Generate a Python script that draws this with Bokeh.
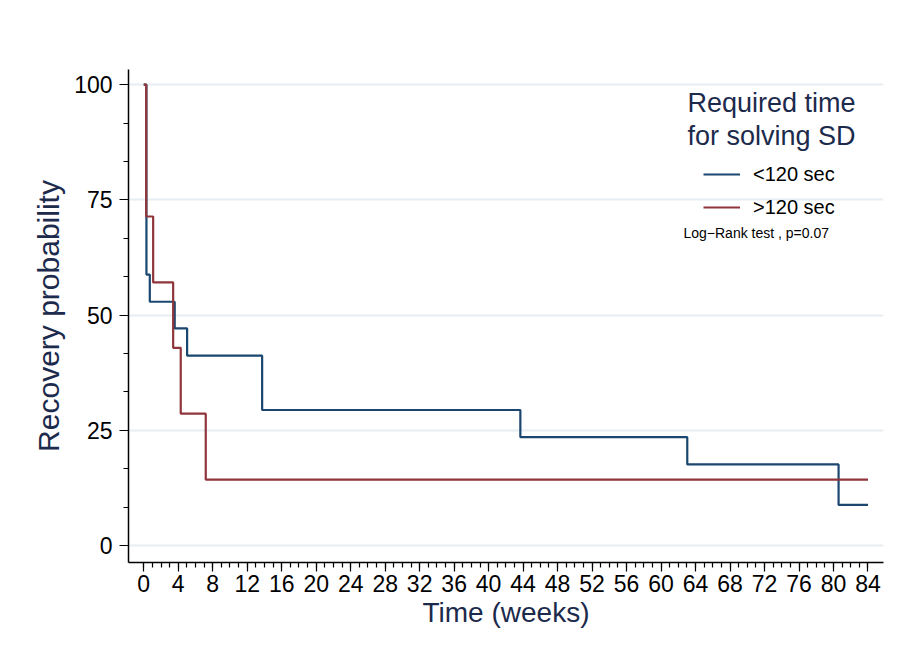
from bokeh.plotting import figure
from bokeh.models import FixedTicker, Legend, LegendItem, Label, Range1d
from bokeh.embed import file_html
from bokeh.resources import INLINE

# Kaplan-Meier estimates (recovery probability, %)
blue_time = [0, 0.31, 0.70, 3.59, 5.03, 13.73, 43.68, 63.04, 80.59, 84]
blue_surv = [100, 58.8, 52.9, 47.1, 41.2, 29.4, 23.5, 17.6, 8.8, 8.8]
red_time = [0, 0.28, 1.09, 3.41, 4.29, 7.19, 84]
red_surv = [100, 71.4, 57.1, 42.9, 28.6, 14.3, 14.3]

blue_label = "<120 sec"
red_label = ">120 sec"
legend_title = ["Required time", "for solving SD"]
test_text = "Log\u2212Rank test , p=0.07"

x_ticks = list(range(0, 85, 4))
x_minor = list(range(0, 85, 1))
y_ticks = [0, 25, 50, 75, 100]
y_minor = [round(i * 25 / 3, 3) for i in range(0, 13)]

FONT = "Liberation Sans"
NAVY = "#1c2a4c"
BLUE = "#1a476f"
RED = "#90353b"

p = figure(width=890, height=641, output_backend="svg", toolbar_location=None,
           x_range=Range1d(-1.77, 85.8), y_range=Range1d(-3.69, 103.3),
           min_border_left=128, min_border_right=7, min_border_top=69,
           min_border_bottom=79)
p.outline_line_color = None
p.background_fill_color = "white"
p.border_fill_color = "white"

r_blue = p.step(blue_time, blue_surv, mode="after", line_color=BLUE, line_width=2.2)
r_red = p.step(red_time, red_surv, mode="after", line_color=RED, line_width=2.2)

# axes
p.xaxis.ticker = FixedTicker(ticks=x_ticks, minor_ticks=x_minor)
p.yaxis.ticker = FixedTicker(ticks=y_ticks, minor_ticks=y_minor)
for ax in (p.xaxis[0], p.yaxis[0]):
    ax.axis_line_color = "black"
    ax.axis_line_width = 1.5
    ax.major_tick_line_color = "black"
    ax.major_tick_line_width = 1.2
    ax.minor_tick_line_color = "black"
    ax.minor_tick_line_width = 1.2
    ax.major_tick_in = 0
    ax.minor_tick_in = 0
    ax.major_tick_out = 9
    ax.minor_tick_out = 5
    ax.major_label_text_font = FONT
    ax.major_label_text_font_size = "23px"
    ax.major_label_text_color = "black"
    ax.axis_label_text_font = FONT
    ax.axis_label_text_font_style = "normal"
    ax.axis_label_text_color = NAVY

p.xaxis.axis_label = "Time (weeks)"
p.yaxis.axis_label = "Recovery probability"
p.xaxis.axis_label_text_font_size = "28px"
p.yaxis.axis_label_text_font_size = "30px"
p.xaxis.major_label_standoff = 3
p.yaxis.major_label_standoff = 7
p.xaxis.axis_label_standoff = 2
p.yaxis.axis_label_standoff = 6

p.xgrid.visible = False
p.ygrid.grid_line_color = "#e6eef2"
p.ygrid.grid_line_width = 2

# legend
legend = Legend(items=[LegendItem(label=blue_label, renderers=[r_blue]),
                       LegendItem(label=red_label, renderers=[r_red])],
                location=(575, 343), padding=0, margin=0,
                glyph_width=37, glyph_height=24, label_height=24, spacing=9,
                label_standoff=13, border_line_color=None,
                background_fill_alpha=0,
                label_text_font=FONT, label_text_font_size="20px",
                label_text_color="black")
p.add_layout(legend)

p.add_layout(Label(x=72.8, y=96.1, text=legend_title[0], text_align="center",
                   text_baseline="alphabetic", text_font=FONT,
                   text_font_size="27px", text_color=NAVY))
p.add_layout(Label(x=72.8, y=88.8, text=legend_title[1], text_align="center",
                   text_baseline="alphabetic", text_font=FONT,
                   text_font_size="27px", text_color=NAVY))
p.add_layout(Label(x=62.6, y=67.9, text=test_text, text_align="left",
                   text_baseline="alphabetic", text_font=FONT,
                   text_font_size="14px", text_color="black"))

open("out.html", "w").write(file_html(p, INLINE))
